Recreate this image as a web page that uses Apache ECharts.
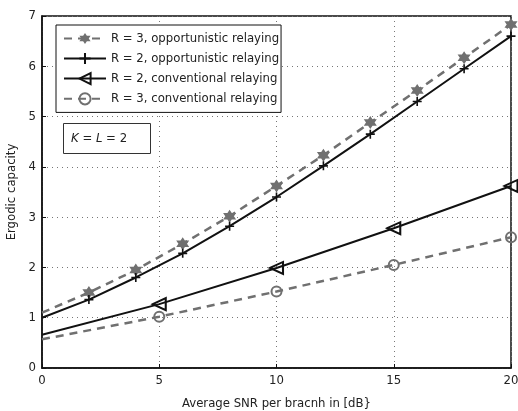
<!DOCTYPE html>
<html>
	<head>
		<meta charset="utf-8">
		<title>Ergodic capacity</title>
		<script src="https://cdn.jsdelivr.net/npm/echarts@6/dist/echarts.min.js"></script>
		<style>
			html, body { margin: 0; padding: 0; background: #fff; }
			#chart { width: 518px; height: 411px; }
		</style>
	</head>
	<body>
		<div id="chart"></div>
		<script type="text/javascript">
			// SNR points (dB) and capacities
			var snrOpp = [0, 2, 4, 6, 8, 10, 12, 14, 16, 18, 20];
			var r3Opp = [1.1, 1.5, 1.95, 2.47, 3.02, 3.62, 4.23, 4.88, 5.52, 6.17, 6.83];
			var r2Opp = [1.0, 1.36, 1.8, 2.28, 2.82, 3.4, 4.02, 4.65, 5.3, 5.95, 6.6];
			var snrConv = [0, 5, 10, 15, 20];
			var r2Conv = [0.66, 1.27, 1.99, 2.78, 3.62];
			var r3Conv = [0.57, 1.02, 1.52, 2.05, 2.6];
			var names = ['R = 3, opportunistic relaying', 'R = 2, opportunistic relaying',
				'R = 2, conventional relaying', 'R = 3, conventional relaying'];

			var gray = '#707070', black = '#111';
			var font = 'DejaVu Sans Condensed, DejaVu Sans, sans-serif';
			// hexagram: both triangles wound the same way so the middle stays filled
			var star = 'path://M0,-10 L8.66,5 L-8.66,5 Z M0,10 L-8.66,-5 L8.66,-5 Z';
			var plus = 'path://M-0.9,-5 H0.9 V-0.9 H5 V0.9 H0.9 V5 H-0.9 V0.9 H-5 V-0.9 H-0.9 Z';

			// first point of each curve has no marker
			function pts(xs, ys) {
				return xs.map(function(x, i) {
					var p = { value: [x, ys[i]] };
					if (i === 0) p.symbol = 'none';
					return p;
				});
			}

			var chart = echarts.init(document.getElementById('chart'));
			var option = {
				animation: false,
				textStyle: { fontFamily: font },
				grid: {
					left: 42, right: 7, top: 16, bottom: 43,
					outerBoundsMode: 'none',
					show: true, borderColor: black, borderWidth: 1.5
				},
				xAxis: {
					type: 'value', min: 0, max: 20, interval: 5,
					name: 'Average SNR per bracnh in [dB}',
					nameLocation: 'middle', nameGap: 29,
					nameTextStyle: { fontSize: 13, color: '#222', fontFamily: font },
					axisLine: { lineStyle: { color: black, width: 1.5 } },
					axisTick: { inside: true, length: 4, lineStyle: { color: black } },
					axisLabel: { fontSize: 13, color: '#222', margin: 6 },
					splitLine: { show: true, lineStyle: { color: '#777', type: [1, 4], width: 1 } }
				},
				yAxis: {
					type: 'value', min: 0, max: 7, interval: 1,
					name: 'Ergodic capacity',
					nameLocation: 'middle', nameGap: 22,
					nameTextStyle: { fontSize: 13, color: '#222', fontFamily: font },
					axisLine: { lineStyle: { color: black, width: 1.5 } },
					axisTick: { inside: true, length: 4, lineStyle: { color: black } },
					axisLabel: { fontSize: 13, color: '#222', margin: 6 },
					splitLine: { show: true, lineStyle: { color: '#777', type: [1, 4], width: 1 } }
				},
				legend: {
					left: 56, top: 25, orient: 'vertical',
					backgroundColor: '#fff', borderColor: black, borderWidth: 1,
					padding: [7, 2, 7, 7], itemWidth: 42, itemHeight: 14, itemGap: 7,
					textStyle: { fontSize: 13, color: '#222', fontFamily: font },
					data: names
				},
				title: {
					text: '{i|K} = {i|L} = 2',
					left: 63, top: 123,
					borderColor: '#333', borderWidth: 1,
					padding: [9, 24, 9, 8],
					textStyle: {
						fontSize: 13, fontWeight: 'normal', color: '#222', fontFamily: font,
						rich: { i: { fontStyle: 'italic', fontSize: 13, fontFamily: font, color: '#222' } }
					}
				},
				series: [{
					name: names[0], type: 'line', data: pts(snrOpp, r3Opp),
					symbol: star, symbolSize: 13,
					itemStyle: { color: gray },
					lineStyle: { color: gray, width: 2.5, type: [8, 6] }
				}, {
					name: names[1], type: 'line', data: pts(snrOpp, r2Opp),
					symbol: plus, symbolSize: 9,
					itemStyle: { color: black },
					lineStyle: { color: black, width: 2 }
				}, {
					name: names[2], type: 'line', data: pts(snrConv, r2Conv),
					symbol: 'triangle', symbolSize: [12, 13], symbolRotate: 90,
					itemStyle: { color: 'rgba(255,255,255,0)', borderColor: black, borderWidth: 2 },
					lineStyle: { color: black, width: 2 }
				}, {
					name: names[3], type: 'line', data: pts(snrConv, r3Conv),
					symbol: 'circle', symbolSize: 10,
					itemStyle: { color: 'rgba(255,255,255,0)', borderColor: gray, borderWidth: 2 },
					lineStyle: { color: gray, width: 2.5, type: [8, 6] }
				}]
			};
			chart.setOption(option);
		</script>
	</body>
</html>
